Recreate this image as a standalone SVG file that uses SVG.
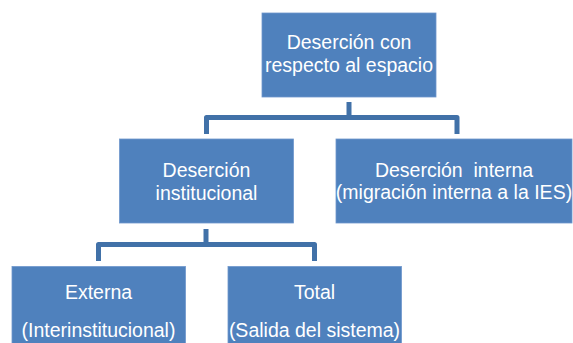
<svg xmlns="http://www.w3.org/2000/svg" width="573" height="343" viewBox="0 0 573 343">
<style>
.box{fill:#4F81BD;stroke:#6F97CC;stroke-width:0.8}
.t{font-family:"Liberation Sans",Arial,sans-serif;font-size:19.5px;fill:#FFFFFF;text-anchor:middle}
.c{fill:none;stroke:#4171A8;stroke-width:5;stroke-linejoin:round}
</style>
<rect width="573" height="343" fill="#FFFFFF"/>
<g id="connectors">
<path class="c" d="M349,102 V117.5"/>
<path class="c" d="M206.5,134 V117.5 H457 V134"/>
<path class="c" d="M206,229 V244.5"/>
<path class="c" d="M98.5,261 V244.5 H314.5 V261"/>
</g>
<g id="node-root">
<rect class="box" x="262" y="13" width="174" height="84"/>
<text class="t" x="349" y="49">Deserción con</text>
<text class="t" x="349" y="71.5">respecto al espacio</text>
</g>
<g id="node-institucional">
<rect class="box" x="119.5" y="139" width="174" height="84"/>
<text class="t" x="206.5" y="176.5">Deserción</text>
<text class="t" x="206.5" y="199.5">institucional</text>
</g>
<g id="node-interna">
<rect class="box" x="336" y="139" width="236" height="84"/>
<text class="t" x="454" y="176.5" xml:space="preserve">Deserción  interna</text>
<text class="t" x="454" y="198.5">(migración interna a la IES)</text>
</g>
<g id="node-externa">
<rect class="box" x="12" y="266.5" width="173.5" height="84"/>
<text class="t" x="98.5" y="298.5">Externa</text>
<text class="t" x="98.5" y="337">(Interinstitucional)</text>
</g>
<g id="node-total">
<rect class="box" x="228" y="266.5" width="173.5" height="84"/>
<text class="t" x="314.5" y="298.5">Total</text>
<text class="t" x="314.5" y="337">(Salida del sistema)</text>
</g>
</svg>
